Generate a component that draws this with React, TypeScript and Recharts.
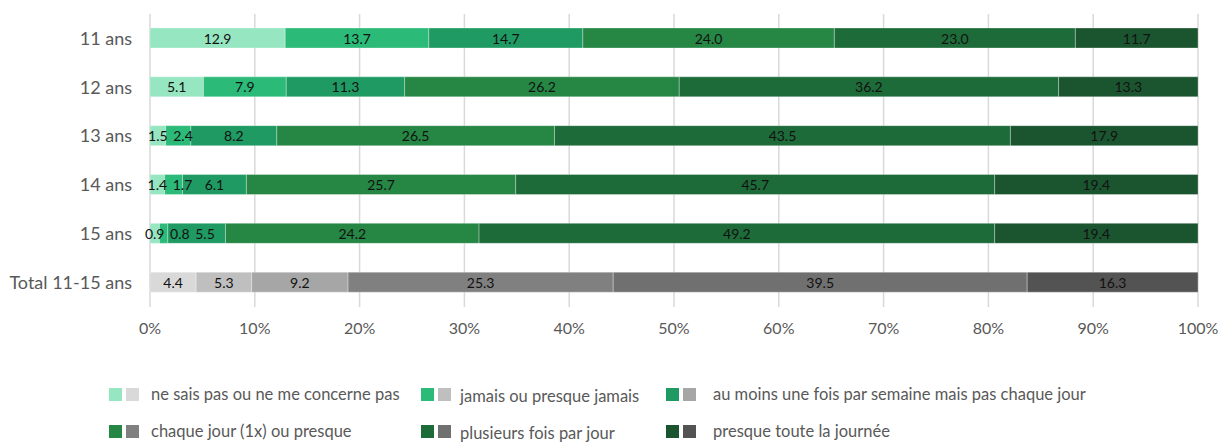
import { BarChart, Bar, XAxis, YAxis, CartesianGrid, Cell, LabelList } from 'recharts';

const categories = ['11 ans', '12 ans', '13 ans', '14 ans', '15 ans', 'Total 11-15 ans'];

const seriesNames = [
  'ne sais pas ou ne me concerne pas',
  'jamais ou presque jamais',
  'au moins une fois par semaine mais pas chaque jour',
  'chaque jour (1x) ou presque',
  'plusieurs fois par jour',
  'presque toute la journée',
];

const neSaisPas = [12.9, 5.1, 1.5, 1.4, 0.9, 4.4];
const jamais = [13.7, 7.9, 2.4, 1.7, 0.8, 5.3];
const auMoinsUneFois = [14.7, 11.3, 8.2, 6.1, 5.5, 9.2];
const chaqueJour = [24.0, 26.2, 26.5, 25.7, 24.2, 25.3];
const plusieursFois = [23.0, 36.2, 43.5, 45.7, 49.2, 39.5];
const presqueToute = [11.7, 13.3, 17.9, 19.4, 19.4, 16.3];

const xTicks = [0, 10, 20, 30, 40, 50, 60, 70, 80, 90, 100];

const greens = ['#96E6C2', '#2BBA78', '#209A63', '#268745', '#1E6B3A', '#1B5530'];
const grays = ['#D9D9D9', '#BFBFBF', '#A6A6A6', '#808080', '#707070', '#535353'];

const seriesValues = [neSaisPas, jamais, auMoinsUneFois, chaqueJour, plusieursFois, presqueToute];
const keys = ['s0', 's1', 's2', 's3', 's4', 's5'];

const data = categories.map((name, i) => {
  const row: Record<string, string | number> = { name };
  keys.forEach((k, j) => {
    row[k] = seriesValues[j][i];
  });
  return row;
});

// labels on thin segments get pushed right so they don't sit on each other (like the original)
const MIN_GAP = 2.4;
const segStarts: number[][] = keys.map(() => []);
const labelCenters: number[][] = keys.map(() => []);
categories.forEach((_, i) => {
  let acc = 0;
  let prev = -Infinity;
  seriesValues.forEach((vals, j) => {
    const center = Math.max(acc + vals[i] / 2, prev + MIN_GAP);
    segStarts[j][i] = acc;
    labelCenters[j][i] = center;
    prev = center;
    acc += vals[i];
  });
});

const FONT = 'Lato, "Open Sans", sans-serif';
const legendCols = [109, 421, 666];
const legendRows = [395, 432];

const renderLabel = (j: number) => (props: any) => {
  const vb = props.viewBox ?? props;
  const { x, y, width, height } = vb;
  const index = props.index;
  const v = Number(props.value);
  if (!v || index == null) return null;
  const pxPerPct = width / v;
  const cx = x + (labelCenters[j][index] - segStarts[j][index]) * pxPerPct;
  return (
    <text
      x={cx}
      y={y + height / 2}
      textAnchor="middle"
      dominantBaseline="central"
      fill="#111"
      fontSize={14}
      fontFamily={FONT}
    >
      {v.toFixed(1)}
    </text>
  );
};

const Legend = () => (
  <div style={{ position: 'absolute', left: 0, top: 0, width: 1220, height: 442, pointerEvents: 'none' }}>
    {seriesNames.map((label, i) => {
      const col = i % 3;
      const row = Math.floor(i / 3);
      const left = legendCols[col];
      const cy = legendRows[row];
      return (
        <div key={label} style={{ position: 'absolute', left, top: cy - 7, display: 'flex', alignItems: 'flex-start' }}>
          <span style={{ width: 13, height: 13, background: greens[i], display: 'inline-block' }} />
          <span style={{ width: 13, height: 13, background: grays[i], display: 'inline-block', marginLeft: 4 }} />
          <span
            style={{
              fontFamily: FONT,
              fontSize: 16.5,
              color: '#595959',
              marginLeft: col === 2 ? 17 : col === 1 ? 9 : 12,
              lineHeight: '13px',
              position: 'relative',
              top: col === 1 ? 2 : 0,
              whiteSpace: 'nowrap',
            }}
          >
            {label}
          </span>
        </div>
      );
    })}
  </div>
);

export default function App() {
  return (
    <div style={{ position: 'absolute', left: 0, top: 0, width: 1220, height: 442, background: '#fff' }}>
      <BarChart
        width={1220}
        height={442}
        data={data}
        layout="vertical"
        margin={{ top: 14, right: 22, left: 0, bottom: 105 }}
        barSize={20}
      >
        <CartesianGrid horizontal={false} stroke="#D9D9D9" strokeWidth={1.5} />
        <XAxis
          type="number"
          domain={[0, 100]}
          allowDataOverflow
          ticks={xTicks}
          tickFormatter={(v: number) => `${v}%`}
          axisLine={false}
          tickLine={false}
          tickMargin={10}
          height={30}
          tick={{ fill: '#595959', fontSize: 16, fontFamily: FONT }}
        />
        <YAxis
          type="category"
          dataKey="name"
          width={150}
          axisLine={false}
          tickLine={false}
          tickMargin={12}
          tick={{ fill: '#595959', fontSize: 18, fontFamily: FONT }}
        />
        {keys.map((k, j) => (
          <Bar
            key={k}
            dataKey={k}
            name={seriesNames[j]}
            stackId="a"
            isAnimationActive={false}
            stroke="#ffffff"
            strokeOpacity={0.3}
            strokeWidth={1}
          >
            {categories.map((c, i) => (
              <Cell key={c} fill={i === categories.length - 1 ? grays[j] : greens[j]} />
            ))}
            <LabelList dataKey={k} content={renderLabel(j)} />
          </Bar>
        ))}
      </BarChart>
      <Legend />
    </div>
  );
}
